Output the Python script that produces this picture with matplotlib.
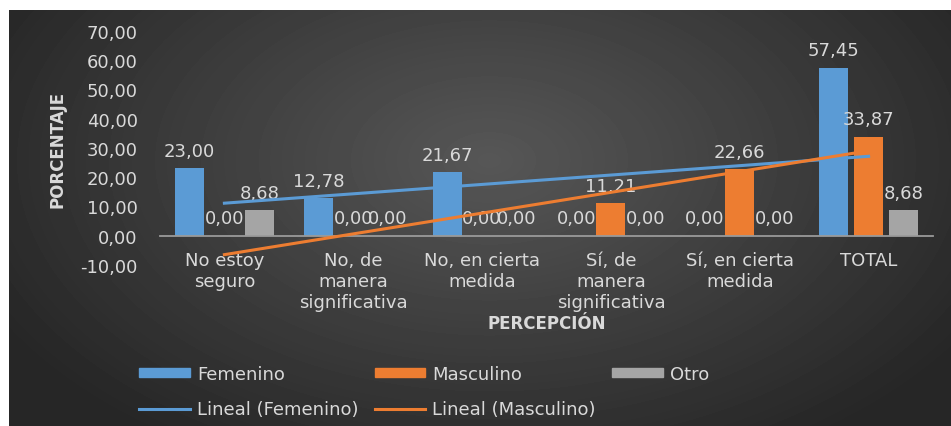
import numpy as np
import matplotlib.pyplot as plt
from matplotlib.lines import Line2D
from matplotlib.patches import Patch

categorias = ["No estoy\nseguro", "No, de\nmanera\nsignificativa", "No, en cierta\nmedida",
              "Sí, de\nmanera\nsignificativa", "Sí, en cierta\nmedida", "TOTAL"]
femenino = [23.00, 12.78, 21.67, 0.00, 0.00, 57.45]
masculino = [0.00, 0.00, 0.00, 11.21, 22.66, 33.87]
otro = [8.68, 0.00, 0.00, 0.00, 0.00, 8.68]
yticks = [-10, 0, 10, 20, 30, 40, 50, 60, 70]

azul = '#5b9bd5'
naranja = '#ed7d31'
gris = '#a5a5a5'
texto = '#d9d9d9'


def coma(v):
    return f"{v:.2f}".replace('.', ',')


fig = plt.figure(figsize=(9.51, 4.27), dpi=100)
fig.patch.set_facecolor('white')

# fondo oscuro con degradado radial
bg = fig.add_axes([9 / 951, 0, 942 / 951, 416 / 427])
bg.set_axis_off()
alto, ancho = 416, 942
yy, xx = np.mgrid[0:alto, 0:ancho]
r = np.clip(np.hypot((xx - 480) / 560, (yy - 150) / 340), 0, 1)
fondo = 0.34 - (0.34 - 0.15) * r
bg.imshow(fondo, cmap='gray', vmin=0, vmax=1, aspect='auto', interpolation='bilinear')

ax = fig.add_axes([160 / 951, 161 / 427, 773 / 951, 234 / 427])
ax.set_facecolor('none')

x = np.arange(len(categorias))
w = 0.225
paso = 0.27
b1 = ax.bar(x - paso, femenino, w, color=azul, zorder=2)
b2 = ax.bar(x, masculino, w, color=naranja, zorder=2)
b3 = ax.bar(x + paso, otro, w, color=gris, zorder=2)
for barras, vals in [(b1, femenino), (b2, masculino), (b3, otro)]:
    ax.bar_label(barras, labels=[coma(v) for v in vals], padding=6,
                 color=texto, fontsize=13, zorder=3)

# líneas de tendencia lineal
tf = np.polyval(np.polyfit(x, femenino, 1), x)
tm = np.polyval(np.polyfit(x, masculino, 1), x)
ax.plot(x, tf, color=azul, lw=2.2, zorder=4)
ax.plot(x, tm, color=naranja, lw=2.2, zorder=4)

ax.set_xlim(-0.5, len(categorias) - 0.5)
ax.set_ylim(-10, 70)
ax.set_yticks(yticks)
ax.set_yticklabels([coma(v) for v in yticks])
ax.set_xticks(x)
ax.set_xticklabels(categorias)
ax.tick_params(axis='y', length=0, pad=16, colors=texto, labelsize=13)
ax.tick_params(axis='x', length=0, pad=11, colors=texto, labelsize=13)
for s in ['top', 'right', 'left']:
    ax.spines[s].set_visible(False)
ax.spines['bottom'].set_position(('data', 0))
ax.spines['bottom'].set_color('#9a9a9a')
ax.spines['bottom'].set_linewidth(1.3)

fig.text(57 / 951, 1 - 149 / 427, "PORCENTAJE", rotation=90, ha='center', va='center',
         color=texto, fontsize=12, fontweight='bold',
         family=['Liberation Sans Narrow', 'DejaVu Sans'])
fig.text(546.5 / 951, 1 - 324 / 427, "PERCEPCIÓN", ha='center', va='center',
         color=texto, fontsize=12, fontweight='bold')

handles = [Patch(color=azul), Line2D([], [], color=azul, lw=2.2),
           Patch(color=naranja), Line2D([], [], color=naranja, lw=2.2),
           Patch(color=gris)]
etiquetas = ["Femenino", "Lineal (Femenino)", "Masculino", "Lineal (Masculino)", "Otro"]
leg = fig.legend(handles, etiquetas, ncol=3, loc='upper left',
                 bbox_to_anchor=(139 / 951, 1 - 366 / 427), frameon=False,
                 fontsize=13, labelcolor=texto, handlelength=2.8, handleheight=0.45,
                 handletextpad=0.4, columnspacing=0.9, labelspacing=0.95,
                 borderpad=0, borderaxespad=0)

fig.savefig('out.png', dpi=100)
